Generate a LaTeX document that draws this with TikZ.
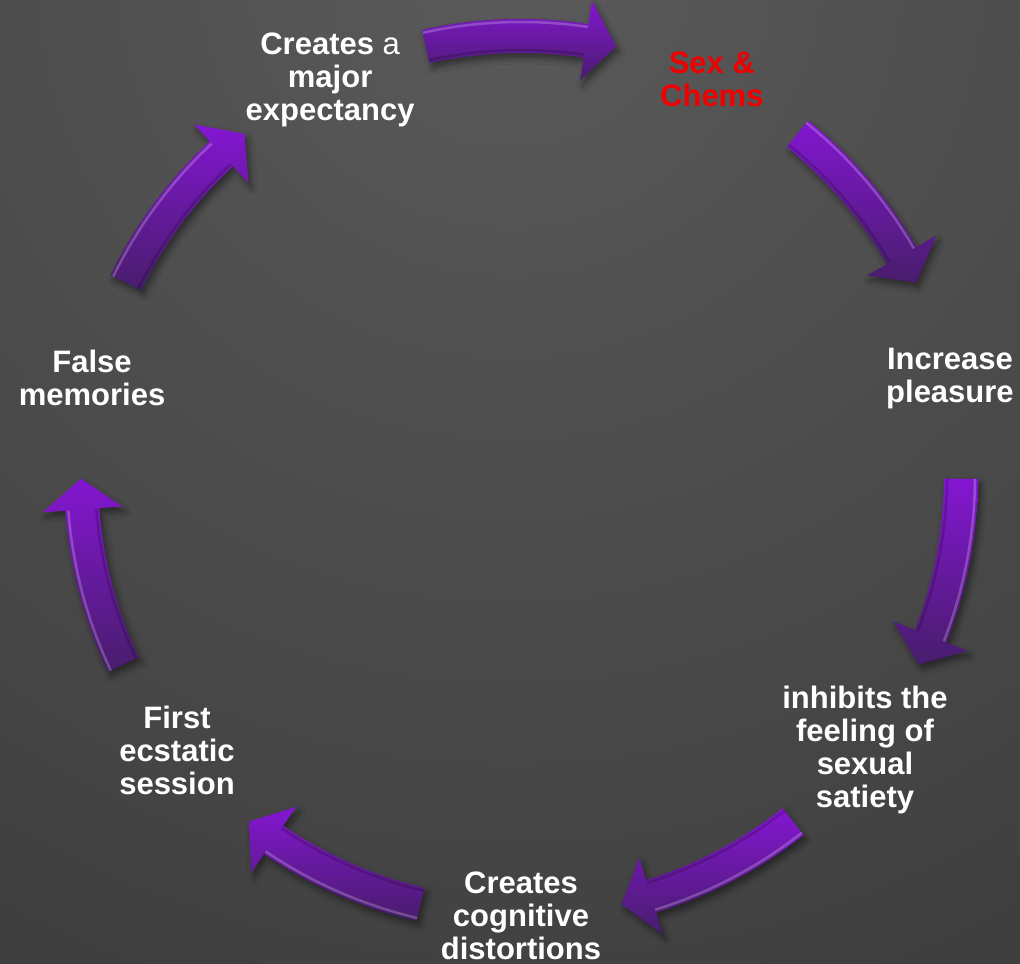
\documentclass[tikz,border=0pt]{standalone}
\usepackage{fontspec}
\setmainfont{Liberation Sans}
\usetikzlibrary{shadows.blur}
\definecolor{bgA}{HTML}{5A5A5A}
\definecolor{bgB}{HTML}{454545}
\definecolor{bgC}{HTML}{303030}
\definecolor{arrTop}{HTML}{8416D2}
\definecolor{arrBot}{HTML}{481D6C}
\definecolor{sexred}{HTML}{F00000}
\pgfdeclareradialshading{bgshade}{\pgfpoint{0bp}{0bp}}{color(0bp)=(bgA); color(18bp)=(bgB); color(34bp)=(bgC); color(50bp)=(bgC)}
\begin{document}
\begin{tikzpicture}[x=1bp,y=1bp,
  lbl/.style={text=white, font=\fontsize{31bp}{33bp}\selectfont\bfseries, align=center, inner sep=0pt},
  cyc/.style={top color=arrTop, bottom color=arrBot, draw=none,
    blur shadow={shadow xshift=3bp, shadow yshift=-5bp, shadow blur radius=6bp, shadow opacity=45}},
  hilite/.style={draw=white, draw opacity=0.22, line width=2.5bp},
  lolite/.style={draw=black, draw opacity=0.18, line width=2.5bp}]
\useasboundingbox (0,0) rectangle (1020,964);
\begin{scope}
  \clip (0,0) rectangle (1020,964);
  \fill[bgC] (0,0) rectangle (1020,964);
  \shade[shading=bgshade] (510,1000) circle (1200);
\end{scope}
\coordinate (O) at (521,488);
% labels
\node[lbl, text=sexred] (sex) at ([shift={(64.29:440)}]O) {Sex \&\\Chems};
\node[lbl] (inc) at ([shift={(12.86:440)}]O) {Increase\\pleasure};
\node[lbl] (inh) at ([shift={(-38.57:440)}]O) {inhibits the\\feeling of\\sexual\\satiety};
\node[lbl] (cog) at ([shift={(-90:440)}]O) {Creates\\cognitive\\distortions};
\node[lbl] (fir) at ([shift={(-141.43:440)}]O) {First\\ecstatic\\session};
\node[lbl] (fal) at ([shift={(167.14:440)}]O) {False\\memories};
\node[lbl] (exp) at ([shift={(115.71:440)}]O) {Creates {\mdseries a}\\major\\expectancy};
% curved block arrows
\foreach \m in {90,38.57,-12.86,-64.29,-115.71,-167.14,141.43}{
  \pgfmathsetmacro\aA{\m+12.5}
  \pgfmathsetmacro\aB{\m-8.5}
  \pgfmathsetmacro\aC{\m-12.5}
  \path[cyc] ([shift={(\aA:457)}]O) arc[start angle=\aA, end angle=\aB, radius=457]
    -- ([shift={(\aB:480)}]O) -- ([shift={(\aC:440)}]O) -- ([shift={(\aB:400)}]O)
    -- ([shift={(\aB:423)}]O) arc[start angle=\aB, end angle=\aA, radius=423] -- cycle;
  \path[hilite] ([shift={(\aA:454)}]O) arc[start angle=\aA, end angle=\aB, radius=454];
  \path[lolite] ([shift={(\aA:426)}]O) arc[start angle=\aA, end angle=\aB, radius=426];
}
\end{tikzpicture}
\end{document}
